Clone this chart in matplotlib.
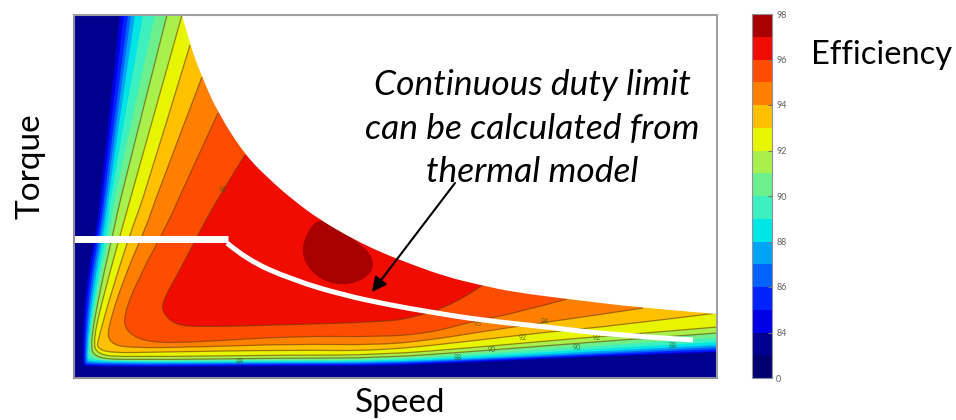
from matplotlib import pyplot as plt
from matplotlib import cm
from matplotlib.colors import BoundaryNorm, ListedColormap
from matplotlib.patches import PathPatch
from matplotlib.path import Path

# upper edge of the operating region
env_speed = [108, 116, 128, 144, 171, 196, 219, 246, 281, 306, 339, 373, 406, 439, 493, 569, 643]
env_torque = [363, 333, 301, 265, 223, 198, 178, 158, 138, 126, 113, 101, 93, 86, 79, 70, 64]

# efficiency contours
speed_84 = [46, 26, 23, 11, 8, 12, 219, 306, 406, 506, 643]
torque_84 = [363, 178, 153, 88, 14, 11, 12, 12, 16, 21, 26]
speed_85 = [50, 28, 25, 13, 9, 13, 219, 306, 406, 506, 643]
torque_85 = [363, 178, 153, 88, 15, 12, 13, 13, 17, 22, 27]
speed_86 = [54, 30, 27, 15, 10, 14, 219, 306, 406, 506, 643]
torque_86 = [363, 178, 153, 88, 16, 13, 14, 14, 18, 23, 29]
speed_87 = [57, 32, 29, 17, 11, 15, 219, 306, 406, 506, 643]
torque_87 = [363, 178, 153, 88, 18, 14, 15, 15, 19, 24, 31]
speed_88 = [61, 34, 31, 19, 12, 16, 219, 306, 406, 506, 643]
torque_88 = [363, 178, 153, 88, 20, 15, 16, 16, 20, 26, 33]
speed_89 = [69, 36, 34, 21, 13, 16, 219, 306, 406, 506, 643]
torque_89 = [363, 178, 153, 88, 23, 16, 17, 17, 22, 28, 36]
speed_90 = [81, 40, 37, 23, 14, 19, 53, 219, 306, 406, 506, 643]
torque_90 = [363, 178, 153, 88, 28, 18, 17, 18, 18, 24, 31, 40]
speed_91 = [93, 46, 41, 26, 16, 21, 53, 219, 306, 406, 506, 643]
torque_91 = [363, 178, 153, 88, 33, 20, 18, 20, 20, 27, 35, 45]
speed_92 = [108, 56, 49, 31, 19, 23, 53, 219, 306, 406, 506, 573, 643]
torque_92 = [363, 178, 153, 88, 38, 23, 21, 23, 23, 31, 40, 45, 51]
speed_93 = [116, 69, 59, 38, 24, 23, 36, 86, 219, 306, 406, 473, 539, 643]
torque_93 = [333, 178, 153, 88, 38, 30, 25, 26, 28, 27, 38, 46, 52, 65]
speed_94 = [128, 81, 73, 51, 33, 36, 53, 126, 219, 306, 356, 406, 473, 523, 569]
torque_94 = [301, 178, 153, 103, 48, 35, 30, 31, 34, 33, 38, 46, 56, 63, 70]
speed_95 = [144, 104, 93, 66, 49, 53, 76, 126, 219, 306, 356, 396, 446, 493]
torque_95 = [265, 178, 153, 103, 62, 45, 35, 36, 42, 41, 45, 56, 66, 79]
speed_96 = [171, 149, 129, 106, 89, 88, 101, 126, 206, 306, 339, 383, 409]
torque_96 = [223, 188, 153, 108, 78, 66, 53, 51, 53, 56, 60, 75, 93]
speed_97 = [246, 231, 227, 246, 276, 299, 299, 276]
torque_97 = [162, 143, 120, 97, 92, 105, 123, 142]

contour_speeds = [speed_84, speed_85, speed_86, speed_87, speed_88, speed_89, speed_90,
                  speed_91, speed_92, speed_93, speed_94, speed_95, speed_96]
contour_torques = [torque_84, torque_85, torque_86, torque_87, torque_88, torque_89, torque_90,
                   torque_91, torque_92, torque_93, torque_94, torque_95, torque_96]

# contour labels printed on the map (hard to read in the picture)
label_speed = [149, 404, 471, 449, 418, 503, 523, 599, 384, 166]
label_torque = [188, 55, 56, 41, 29, 31, 40, 33, 20, 16]
label_text = ["96", "95", "94", "92", "90", "90", "92", "88", "88", "88"]

# continuous duty limit
limit_flat_speed = [0, 154]
limit_flat_torque = [139, 139]
limit_speed = [153, 173, 219, 269, 316, 356, 406, 473, 539, 619]
limit_torque = [135, 118, 98, 83, 73, 66, 58, 51, 43, 38]

levels = [0, 80, 84, 85, 86, 87, 88, 89, 90, 91, 92, 93, 94, 95, 96, 97, 98]
band_colors = ["#00006e", "#00008f", "#0000e6", "#0022ff", "#0062ff", "#00a4f5", "#00e6e6",
               "#3cf0c0", "#6cf08c", "#a8f04c", "#e8f500", "#ffc000", "#ff8000", "#ff4d00",
               "#f00c00", "#a80000"]
cbar_ticks = [0, 84, 86, 88, 90, 92, 94, 96, 98]
cbar_labels = ["0", "84", "86", "88", "90", "92", "94", "96", "98"]
right_ticks = [56, 110, 163, 216, 270, 325]
top_ticks = [213, 430]


def smooth_path(xs, ys, corner=None, closed=False):
    # quadratic segments with the read-off points as control points
    pts = list(zip(xs, ys))
    if closed:
        start = ((pts[-1][0] + pts[0][0]) / 2, (pts[-1][1] + pts[0][1]) / 2)
        inner = pts
    else:
        start = pts[0]
        inner = pts[1:-1]
    verts = [start]
    codes = [Path.MOVETO]
    for i, p in enumerate(inner):
        nxt = inner[i + 1] if i + 1 < len(inner) else (start if closed else pts[-1])
        end = nxt if (not closed and i + 1 == len(inner)) else ((p[0] + nxt[0]) / 2, (p[1] + nxt[1]) / 2)
        verts += [p, end]
        codes += [Path.CURVE3, Path.CURVE3]
    if corner is not None:
        verts.append(corner)
        codes.append(Path.LINETO)
    return Path(verts, codes)


plt.rcParams["font.family"] = ["Lato", "DejaVu Sans"]

fig = plt.figure(figsize=(9.56, 4.2), dpi=100)
ax = fig.add_axes([74 / 956, 1 - 378 / 420, 643 / 956, 363 / 420])
ax.set_xlim(0, 643)
ax.set_ylim(0, 363)
ax.set_facecolor(band_colors[1])

# bands go from the outside in, each one closed through the top right corner
for i, (s, t) in enumerate(zip(contour_speeds, contour_torques)):
    ax.add_patch(PathPatch(smooth_path(s, t, corner=(643, 363)), fc=band_colors[i + 2], lw=0, zorder=2 + i * 0.01))
    if i >= 7:
        ax.add_patch(PathPatch(smooth_path(s, t), fc="none", ec="#6b3a00", lw=0.9, alpha=0.6, zorder=2 + i * 0.01))
ax.add_patch(PathPatch(smooth_path(speed_97, torque_97, closed=True), fc=band_colors[-1], lw=0, zorder=3))

for s, t, lab in zip(label_speed, label_torque, label_text):
    ax.text(s, t, lab, fontsize=5, color="#3a5a20", alpha=0.8, ha="center", va="center", zorder=3.5)

ax.add_patch(PathPatch(smooth_path(env_speed, env_torque, corner=(643, 363)), fc="white", lw=0, zorder=4))
ax.plot(limit_flat_speed, limit_flat_torque, color="white", lw=5, solid_capstyle="butt", zorder=5)
ax.add_patch(PathPatch(smooth_path(limit_speed, limit_torque), fc="none", ec="white", lw=3.6, capstyle="butt", zorder=5))

ax.annotate("", xy=(298, 86), xytext=(381, 195), zorder=6,
            arrowprops=dict(arrowstyle="-|>", color="black", lw=1.5, mutation_scale=22, shrinkA=0, shrinkB=0))

ax.set_xticks(top_ticks)
ax.set_yticks(right_ticks)
ax.xaxis.tick_top()
ax.yaxis.tick_right()
ax.tick_params(direction="in", length=5, width=1, color="#8a8a8a", labeltop=False, labelright=False)
for name, spine in ax.spines.items():
    spine.set_color("#8f8f9f" if name in ("left", "bottom") else "#a0a0a0")
    spine.set_linewidth(1.5)
    spine.set_zorder(7)

cax = fig.add_axes([752 / 956, 1 - 378 / 420, 20 / 956, 364 / 420])
norm = BoundaryNorm(levels, len(band_colors))
sm = cm.ScalarMappable(norm=norm, cmap=ListedColormap(band_colors))
cbar = fig.colorbar(sm, cax=cax, spacing="uniform", ticks=cbar_ticks)
cbar.set_ticklabels(cbar_labels)
cbar.minorticks_off()
cax.tick_params(length=3, width=0.8, direction="in", color="#707070", labelsize=6.5, labelcolor="#606060", pad=3)
cbar.outline.set_edgecolor("#8f8f9f")

for line, y in zip(["Continuous duty limit", "can be calculated from", "thermal model"], [85, 129, 172]):
    fig.text(532 / 956, 1 - y / 420, line, fontsize=25.5, style="italic", ha="center", va="center", zorder=8)
fig.text(30 / 956, 1 - 166 / 420, "Torque", fontsize=24, rotation=90, ha="center", va="center")
fig.text(400 / 956, 1 - 403 / 420, "Speed", fontsize=24, ha="center", va="center")
fig.text(882 / 956, 1 - 55 / 420, "Efficiency", fontsize=23.5, ha="center", va="center")

fig.savefig("out.png", dpi=100)
